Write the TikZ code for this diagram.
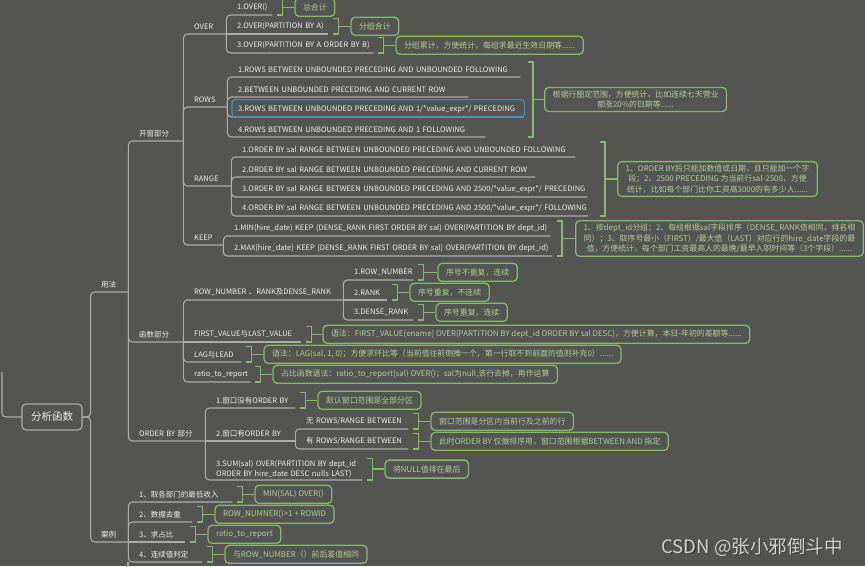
\documentclass[tikz,border=0pt]{standalone}
\usepackage{fontspec}
\setmainfont{Noto Sans CJK SC}
\usetikzlibrary{calc}
\definecolor{bg}{RGB}{84,85,82}
\definecolor{ln}{RGB}{172,172,170}
\definecolor{tx}{RGB}{238,238,236}
\definecolor{gr}{RGB}{134,186,104}
\definecolor{nt}{RGB}{178,204,152}
\definecolor{hl}{RGB}{64,146,190}
\definecolor{wm}{RGB}{208,208,208}
\tikzset{
  gl/.style={draw=ln, line width=1.1pt, rounded corners=4pt},
  gline/.style={draw=gr, line width=1.3pt},
  topic/.style={anchor=south west, text=tx, font=\fontsize{7.5}{9.8}\selectfont, inner xsep=11pt, inner ysep=0pt, minimum height=15pt, align=left},
  note/.style={anchor=west, draw=gr, line width=1.3pt, rounded corners=4pt, text=nt, font=\fontsize{7.9}{10.6}\selectfont, inner xsep=8pt, inner ysep=3pt, minimum height=18pt, align=center},
  rootbox/.style={draw=ln, line width=1.2pt, rounded corners=4pt, text=tx, font=\fontsize{10.5}{12}\selectfont, minimum width=60pt, minimum height=26pt, inner sep=0pt},
}
\newcommand\topicnode[6][]{\pgfmathsetmacro\mytw{#4-#3-22}\node[topic,text width=\mytw pt,#1] (#2) at (#3,#5) {\mbox{#6}};}
\newcommand\topicnodeml[6][]{\pgfmathsetmacro\mytw{#4-#3-22}\node[topic,text width=\mytw pt,#1] (#2) at (#3,#5) {#6};}
\newcommand\conn[2]{\draw[gl] (#1.south east) |- (#2.south east);}
\newcommand\connh[2]{\draw[gl] (#1.south east) -- (#2.south east);}
\newcommand\sbrk[2]{\draw[gline] ([xshift=5pt]#1.north east) -- ([xshift=10pt]#1.north east) -- ([xshift=10pt]#1.south east) -- ([xshift=5pt]#1.south east);
  \draw[gline] ([xshift=10pt]#1.east) -- (#2.west);}
\newcommand\gbrk[4]{\draw[gline] (#1-5,#2) -- (#1,#2) -- (#1,#3) -- (#1-5,#3);
  \draw[gline] (#1,{(#2+#3)/2}) -- (#4.west);}
\begin{document}
\begin{tikzpicture}[x=1pt,y=-1pt]
\useasboundingbox (0,0) rectangle (865,566);
\fill[bg] (0,0) rectangle (865,566);

% root
\node[rootbox] (root) at (52,417) {分析函数};
\coordinate (inc) at (2,372);
\draw[gl] (inc) |- (root.west);

% level 1
\topicnode{yf}{90}{128}{292}{用法}
\topicnode{al}{90}{128}{542}{案例}
\draw[gl] (root.east) -- ++(8,0) |- (yf.south east);
\draw[gl] (root.east) -- ++(8,0) |- (al.south east);

% level 2
\topicnode{kc}{128}{183}{141}{开窗部分}
\topicnode{hs}{128}{183}{342}{函数部分}
\topicnode{ob}{128}{205}{441}{ORDER BY 部分}
\conn{yf}{kc}\conn{yf}{hs}\conn{yf}{ob}

% 开窗部分
\topicnode{over}{183}{226}{34}{OVER}
\topicnode{rows}{183}{227}{107}{ROWS}
\topicnode{range}{183}{231}{186}{RANGE}
\topicnode{keep}{183}{223}{245}{KEEP}
\conn{kc}{over}\conn{kc}{rows}\conn{kc}{range}\conn{kc}{keep}

% OVER
\topicnode{o1}{226}{272}{15}{1.OVER()}
\topicnode{o2}{226}{328}{34}{2.OVER(PARTITION BY A)}
\topicnode{o3}{226}{373}{53}{3.OVER(PARTITION BY A ORDER BY B)}
\conn{over}{o1}\connh{over}{o2}\conn{over}{o3}
\node[note] (o1n) at ([xshift=22pt]o1.east) {总合计};
\node[note] (o2n) at ([xshift=22pt]o2.east) {分组合计};
\node[note] (o3n) at ([xshift=22pt]o3.east) {分组累计，方便统计，每组求最近生效日期等......};
\sbrk{o1}{o1n}\sbrk{o2}{o2n}\sbrk{o3}{o3n}

% ROWS
\topicnode{r1}{227}{520}{77}{1.ROWS BETWEEN UNBOUNDED PRECEDING AND UNBOUNDED FOLLOWING}
\topicnode{r2}{227}{468}{97}{2.BETWEEN UNBOUNDED PRECEDING AND CURRENT ROW}
\topicnode{r3}{227}{523}{117}{3.ROWS BETWEEN UNBOUNDED PRECEDING AND 1/*value\_expr*/ PRECEDING}
\topicnode{r4}{227}{485}{137}{4.ROWS BETWEEN UNBOUNDED PRECEDING AND 1 FOLLOWING}
\conn{rows}{r1}\conn{rows}{r2}\conn{rows}{r3}\conn{rows}{r4}
\draw[hl, line width=1.1pt, rounded corners=3pt] ([xshift=5pt,yshift=2pt]r3.north west) rectangle ([xshift=1pt]r3.south east);
\node[note] (rowsn) at (544,99.5) {根据行圈定范围，方便统计，比如连续七天营业\\额涨20\%的日期等......};
\gbrk{533}{62}{137}{rowsn}

% RANGE
\topicnode{g1}{231}{575}{157}{1.ORDER BY sal RANGE BETWEEN UNBOUNDED PRECEDING AND UNBOUNDED FOLLOWING}
\topicnode{g2}{231}{535}{177}{2.ORDER BY sal RANGE BETWEEN UNBOUNDED PRECEDING AND CURRENT ROW}
\topicnode{g3}{231}{587}{197}{3.ORDER BY sal RANGE BETWEEN UNBOUNDED PRECEDING AND 2500/*value\_expr*/ PRECEDING}
\topicnode{g4}{231}{588}{216}{4.ORDER BY sal RANGE BETWEEN UNBOUNDED PRECEDING AND 2500/*value\_expr*/ FOLLOWING}
\conn{range}{g1}\conn{range}{g2}\conn{range}{g3}\conn{range}{g4}
\node[note] (rangen) at (617,179) {1、ORDER BY后只能加数值或日期，且只能加一个字\\段；2、2500 PRECEDING 为当前行sal-2500，方便\\统计，比如每个部门比你工资高3000的有多少人......};
\gbrk{605}{142}{216}{rangen}

% KEEP
\topicnode{k1}{223}{550}{236}{1.MIN(hire\_date) KEEP (DENSE\_RANK FIRST ORDER BY sal) OVER(PARTITION BY dept\_id)}
\topicnode{k2}{223}{552}{256}{2.MAX(hire\_date) KEEP (DENSE\_RANK FIRST ORDER BY sal) OVER(PARTITION BY dept\_id)}
\conn{keep}{k1}\conn{keep}{k2}
\node[note] (keepn) at (575,238.5) {1、按dept\_id分组；2、每组根据sal字段排序（DENSE\_RANK值相同，排名相\\同）；3、取序号最小（FIRST）/最大值（LAST）对应行的hire\_date字段的最\\值，方便统计，每个部门工资最高人的最晚/最早入职时间等（3个字段）......};
\gbrk{562}{221}{256}{keepn}

% 函数部分
\topicnode{f1}{183}{343}{300}{ROW\_NUMBER 、RANK及DENSE\_RANK}
\topicnode{f2}{183}{301}{342}{FIRST\_VALUE与LAST\_VALUE}
\topicnode{f3}{183}{241}{362}{LAG与LEAD}
\topicnode{f4}{183}{250}{382}{ratio\_to\_report}
\conn{hs}{f1}\connh{hs}{f2}\conn{hs}{f3}\conn{hs}{f4}
\topicnode{n1}{343}{413}{280}{1.ROW\_NUMBER}
\topicnode{n2}{343}{387}{300}{2.RANK}
\topicnode{n3}{343}{413}{320}{3.DENSE\_RANK}
\conn{f1}{n1}\connh{f1}{n2}\conn{f1}{n3}
\node[note] (n1n) at ([xshift=24pt]n1.east) {序号不重复，连续};
\node[note] (n2n) at ([xshift=22pt]n2.east) {序号重复，不连续};
\node[note] (n3n) at ([xshift=22pt]n3.east) {序号重复，连续};
\sbrk{n1}{n1n}\sbrk{n2}{n2n}\sbrk{n3}{n3n}
\node[note] (f2n) at ([xshift=21pt]f2.east) {语法：FIRST\_VALUE(ename) OVER(PARTITION BY dept\_id ORDER BY sal DESC)，方便计算，本日-年初的差额等......};
\node[note] (f3n) at ([xshift=22pt]f3.east) {语法：LAG(sal, 1, 0)；方便求环比等（当前值往前倒推一个，第一行取不到前面的值则补充0）......};
\node[note] (f4n) at ([xshift=22pt]f4.east) {占比函数语法：ratio\_to\_report(sal) OVER()；sal为null,该行去掉，再作运算};
\sbrk{f2}{f2n}\sbrk{f3}{f3n}\sbrk{f4}{f4n}

% ORDER BY 部分
\topicnode{b1}{205}{295}{408}{1.窗口没有ORDER BY}
\topicnode{b2}{205}{295}{441}{2.窗口有ORDER BY}
\topicnodeml[inner ysep=2pt]{b3}{205}{362}{480}{\mbox{3.SUM(sal) OVER(PARTITION BY dept\_id}\\\mbox{ORDER BY hire\_date DESC nulls LAST)}}
\conn{ob}{b1}\connh{ob}{b2}\conn{ob}{b3}
\topicnode{c1}{295}{408}{429}{无 ROWS/RANGE BETWEEN}
\topicnode{c2}{295}{408}{449}{有 ROWS/RANGE BETWEEN}
\conn{b2}{c1}\conn{b2}{c2}
\node[note] (b1n) at ([xshift=22pt]b1.east) {默认窗口范围是全部分区};
\node[note] (c1n) at ([xshift=22pt]c1.east) {窗口范围是分区内当前行及之前的行};
\node[note] (c2n) at ([xshift=22pt]c2.east) {此时ORDER BY 仅做排序用，窗口范围根据BETWEEN AND 指定};
\node[note] (b3n) at ([xshift=22pt]b3.east) {将NULL值排在最后};
\sbrk{b1}{b1n}\sbrk{c1}{c1n}\sbrk{c2}{c2n}\sbrk{b3}{b3n}

% 案例
\topicnode{a1}{128}{232}{502}{1、取各部门的最低收入}
\topicnode{a2}{128}{192}{522}{2、数据去重}
\topicnode{a3}{128}{185}{542}{3、求占比}
\topicnode{a4}{128}{202}{562}{4、连续值判定}
\conn{al}{a1}\conn{al}{a2}\connh{al}{a3}\conn{al}{a4}
\coordinate (abot) at (128,570);
\draw[gl] (a4.south west) -- (abot);
\node[note] (a1n) at ([xshift=22pt]a1.east) {MIN(SAL) OVER()};
\node[note] (a2n) at ([xshift=22pt]a2.east) {ROW\_NUMNER()>1 + ROWID};
\node[note] (a3n) at ([xshift=22pt]a3.east) {ratio\_to\_report};
\node[note] (a4n) at ([xshift=22pt]a4.east) {与ROW\_NUMBER（）前后差值相同};
\sbrk{a1}{a1n}\sbrk{a2}{a2n}\sbrk{a3}{a3n}\sbrk{a4}{a4n}

% watermark
\node[anchor=west, font=\fontsize{18.5}{22}\selectfont, text=black!75] (wm1) at (659.2,548.2) {CSDN @张小邪倒斗中};
\node[anchor=west, font=\fontsize{18.5}{22}\selectfont, text=wm] (wm2) at (658,547) {CSDN @张小邪倒斗中};
\end{tikzpicture}
\end{document}
